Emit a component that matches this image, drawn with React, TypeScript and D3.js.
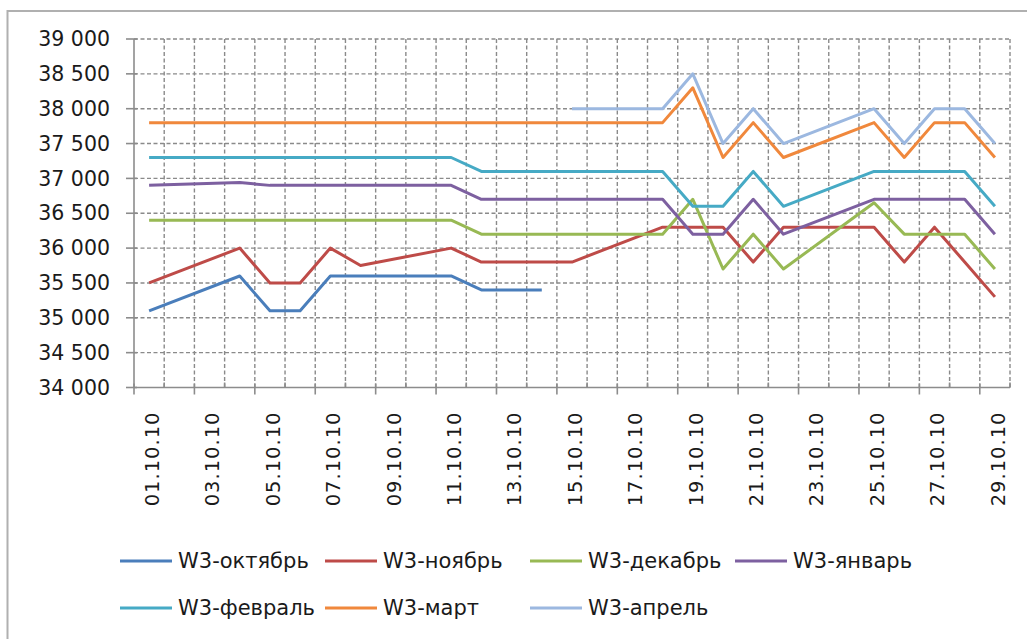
import * as d3 from "d3";
import React from "react";

const WIDTH = 1027;
const HEIGHT = 639;

// trading days of October 2010; weekends are empty (null) and the line skips over them
const dates = [
  "01.10.10", "02.10.10", "03.10.10", "04.10.10", "05.10.10", "06.10.10", "07.10.10",
  "08.10.10", "09.10.10", "10.10.10", "11.10.10", "12.10.10", "13.10.10", "14.10.10",
  "15.10.10", "16.10.10", "17.10.10", "18.10.10", "19.10.10", "20.10.10", "21.10.10",
  "22.10.10", "23.10.10", "24.10.10", "25.10.10", "26.10.10", "27.10.10", "28.10.10",
  "29.10.10",
];

const yTicks = [34000, 34500, 35000, 35500, 36000, 36500, 37000, 37500, 38000, 38500, 39000];

const october = [35100, null, null, 35600, 35100, 35100, 35600, 35600, null, null, 35600, 35400, 35400, 35400, null, null, null, null, null, null, null, null, null, null, null, null, null, null, null];
const november = [35500, null, null, 36000, 35500, 35500, 36000, 35750, null, null, 36000, 35800, 35800, 35800, 35800, null, null, 36300, 36300, 36300, 35800, 36300, null, null, 36300, 35800, 36300, 35800, 35300];
const december = [36400, null, null, 36400, 36400, 36400, 36400, 36400, null, null, 36400, 36200, 36200, 36200, 36200, null, null, 36200, 36700, 35700, 36200, 35700, null, null, 36650, 36200, 36200, 36200, 35700];
const january = [36900, null, null, 36940, 36900, 36900, 36900, 36900, null, null, 36900, 36700, 36700, 36700, 36700, null, null, 36700, 36200, 36200, 36700, 36200, null, null, 36700, 36700, 36700, 36700, 36200];
const february = [37300, null, null, 37300, 37300, 37300, 37300, 37300, null, null, 37300, 37100, 37100, 37100, 37100, null, null, 37100, 36600, 36600, 37100, 36600, null, null, 37100, 37100, 37100, 37100, 36600];
const march = [37800, null, null, 37800, 37800, 37800, 37800, 37800, null, null, 37800, 37800, 37800, 37800, 37800, null, null, 37800, 38300, 37300, 37800, 37300, null, null, 37800, 37300, 37800, 37800, 37300];
const april = [null, null, null, null, null, null, null, null, null, null, null, null, null, null, 38000, null, null, 38000, 38500, 37500, 38000, 37500, null, null, 38000, 37500, 38000, 38000, 37500];

const seriesNames = ["W3-октябрь", "W3-ноябрь", "W3-декабрь", "W3-январь", "W3-февраль", "W3-март", "W3-апрель"];
const seriesValues = [october, november, december, january, february, march, april];
const colors = ["#4A7EBB", "#BE4B48", "#98B954", "#7D60A0", "#46AAC5", "#F0883C", "#9CB8E0"];

const fmt = d3.formatLocale({ decimal: ",", thousands: "\u00a0", grouping: [3], currency: ["", ""] }).format(",");

export default function App() {
  const x = d3.scaleBand().domain(dates).range([134, 1010]).padding(0);
  const y = d3.scaleLinear().domain([34000, 39000]).range([387.5, 39]);
  const bw = x.bandwidth();
  const cx = (d) => x(d) + bw / 2;
  const [left, right] = x.range();
  const [bottom, top] = y.range();

  const line = d3
    .line()
    .x((d) => cx(d[0]))
    .y((d) => y(d[1]));

  const boundaries = d3.range(dates.length + 1).map((k) => left + k * bw);
  const gridColor = "#8a8a8a";
  const axisColor = "#8c8c8c";

  return (
    <svg width={WIDTH} height={HEIGHT} style={{ position: "absolute", left: 0, top: 0, background: "#fff" }}>
      <rect x={7.5} y={11} width={1040} height={650} fill="#fff" stroke="#b0b0b0" strokeWidth={2} />

      {/* horizontal grid */}
      {yTicks.slice(1).map((t) => (
        <line key={"h" + t} x1={left} x2={right} y1={y(t)} y2={y(t)} stroke={gridColor} strokeWidth={1.4} strokeDasharray="4,2.5" />
      ))}
      {/* vertical grid at category boundaries */}
      {boundaries.slice(1).map((b, i) => (
        <line key={"v" + i} x1={b} x2={b} y1={top} y2={bottom} stroke={gridColor} strokeWidth={1.4} strokeDasharray="4,2.5" />
      ))}

      {/* y axis */}
      <line x1={left} x2={left} y1={top} y2={bottom} stroke={axisColor} strokeWidth={1.6} />
      {yTicks.map((t) => (
        <g key={"yt" + t}>
          <line x1={126} x2={left + 3} y1={y(t)} y2={y(t)} stroke={axisColor} strokeWidth={1.6} />
          <text x={110} y={y(t)} dy="0.35em" textAnchor="end" fontFamily="DejaVu Sans" fontSize={20.5} fill="#1a1a1a">
            {fmt(t)}
          </text>
        </g>
      ))}

      {/* x axis */}
      <line x1={left} x2={right} y1={bottom} y2={bottom} stroke={axisColor} strokeWidth={1.6} />
      {boundaries.map((b, k) => (
        <line key={"xt" + k} x1={b} x2={b} y1={k % 2 === 0 ? bottom - 4 : bottom - 5} y2={k % 2 === 0 ? bottom + 7 : bottom} stroke={axisColor} strokeWidth={1.6} />
      ))}
      {dates.map((d, i) =>
        i % 2 === 0 ? (
          <text
            key={"xl" + d}
            transform={`translate(${cx(d) + 3},${bottom + 24}) rotate(-90)`}
            dy="0.35em"
            textAnchor="end"
            fontFamily="DejaVu Sans"
            fontSize={19.5}
            letterSpacing={1}
            fill="#1a1a1a"
          >
            {d}
          </text>
        ) : null
      )}

      {/* series */}
      {seriesValues.map((vals, s) => {
        const pts = dates.map((d, i) => [d, vals[i]]).filter((p) => p[1] !== null);
        return <path key={"s" + s} d={line(pts)} fill="none" stroke={colors[s]} strokeWidth={3} strokeLinejoin="round" />;
      })}

      {/* legend */}
      {seriesNames.map((name, i) => {
        const lx = 120 + (i % 4) * 205;
        const ly = 561 + Math.floor(i / 4) * 47;
        return (
          <g key={"lg" + i}>
            <line x1={lx} x2={lx + 52} y1={ly} y2={ly} stroke={colors[i]} strokeWidth={3} />
            <text x={lx + 58} y={ly} dy="0.35em" fontFamily="DejaVu Sans" fontSize={21} fill="#1a1a1a">
              {name}
            </text>
          </g>
        );
      })}
    </svg>
  );
}
